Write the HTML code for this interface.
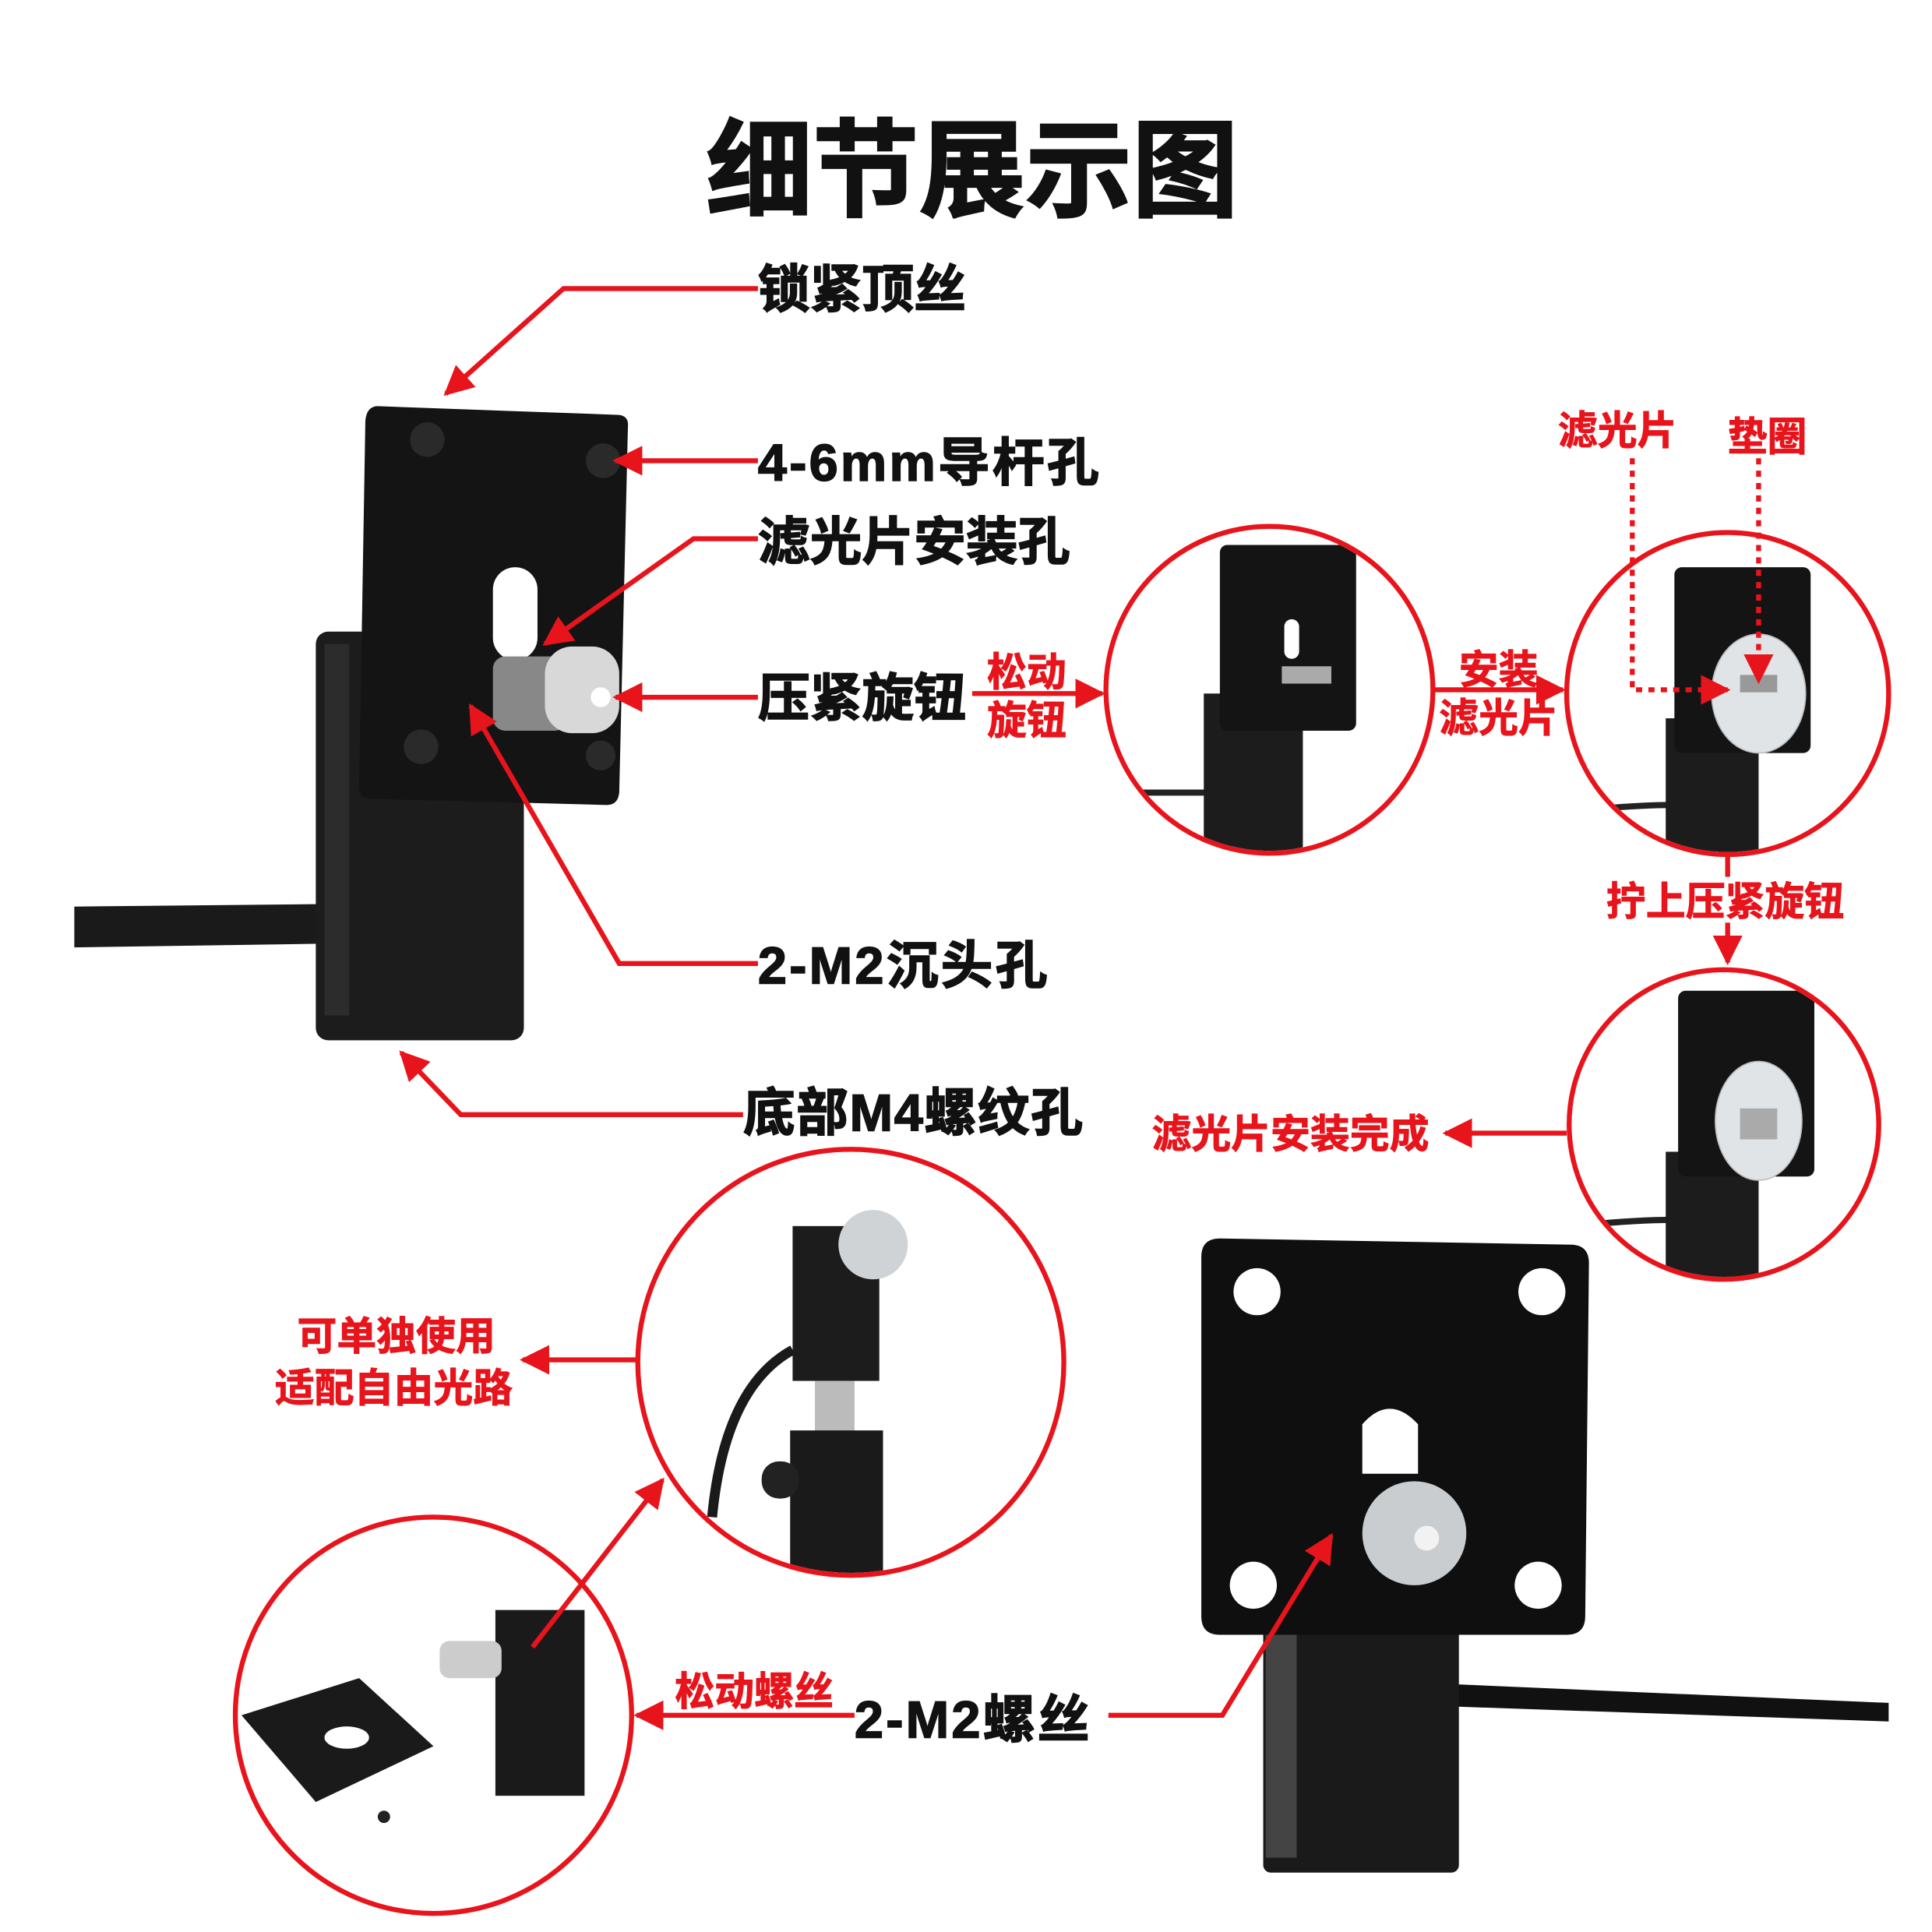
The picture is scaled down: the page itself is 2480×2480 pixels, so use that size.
<!DOCTYPE html>
<html><head><meta charset="utf-8"><style>
html,body{margin:0;padding:0;background:#fff;}
svg{display:block;}
text{font-family:"Liberation Sans","Noto Sans CJK SC",sans-serif;font-weight:bold;}
</style></head><body>
<svg width="2480" height="2480" viewBox="0 0 1560 1560" xmlns="http://www.w3.org/2000/svg">
<defs>
<marker id="ar" viewBox="0 0 10 10" refX="9" refY="5" markerWidth="6" markerHeight="6" orient="auto"><path d="M0,0 L10,5 L0,10 z" fill="#e8141c"/></marker>
<clipPath id="c1"><circle cx="1025" cy="557" r="130"/></clipPath>
<clipPath id="c2"><circle cx="1395" cy="560" r="128"/></clipPath>
<clipPath id="c3"><circle cx="1392" cy="908" r="123"/></clipPath>
<clipPath id="c4"><circle cx="687" cy="1100" r="170"/></clipPath>
<clipPath id="c5"><circle cx="350" cy="1385" r="158"/></clipPath>
</defs>
<rect width="1560" height="1560" fill="#fff"/>
<text x="785" y="168" font-size="86" text-anchor="middle" fill="#111" stroke="#111" stroke-width="1.5">细节展示图</text>

<!-- main device -->
<path d="M60,732 L260,730 L260,762 L60,765 z" fill="#1a1a1a"/>
<rect x="255" y="510" width="168" height="330" rx="10" fill="#1c1c1c"/>
<rect x="262" y="520" width="20" height="300" fill="#2c2c2c"/>
<path d="M305,328 L500,335 Q508,336 507,345 L500,640 Q499,650 490,650 L300,645 Q290,645 290,635 L295,340 Q296,328 305,328 z" fill="#141414"/>
<circle cx="345" cy="355" r="14" fill="#2a2a2a"/><circle cx="487" cy="372" r="14" fill="#2a2a2a"/>
<circle cx="340" cy="603" r="14" fill="#2a2a2a"/><circle cx="485" cy="610" r="12" fill="#2a2a2a"/>
<rect x="398" y="458" width="36" height="75" rx="18" fill="#fff"/>
<rect x="398" y="530" width="60" height="60" rx="10" fill="#888"/>
<rect x="440" y="522" width="60" height="70" rx="22" fill="#d8d8d8"/>
<circle cx="485" cy="563" r="8" fill="#fff"/>

<!-- circle1 device -->
<g clip-path="url(#c1)">
<path d="M900,640 Q950,640 975,640" stroke="#222" stroke-width="5" fill="none"/>
<rect x="972" y="560" width="80" height="130" fill="#1c1c1c"/>
<rect x="985" y="440" width="110" height="150" rx="6" fill="#141414"/>
<rect x="1037" y="500" width="12" height="32" rx="6" fill="#fff"/>
<rect x="1035" y="538" width="40" height="14" fill="#aaa"/>
</g>
<!-- circle2 device -->
<g clip-path="url(#c2)">
<path d="M1270,655 Q1320,650 1350,650" stroke="#222" stroke-width="5" fill="none"/>
<rect x="1345" y="580" width="75" height="110" fill="#1c1c1c"/>
<rect x="1352" y="458" width="110" height="150" rx="6" fill="#141414"/>
<ellipse cx="1420" cy="560" rx="38" ry="48" fill="#e0e4e6" stroke="#bbb"/>
<rect x="1405" y="545" width="30" height="14" fill="#999"/>
</g>
<!-- circle3 device -->
<g clip-path="url(#c3)">
<path d="M1270,990 Q1320,985 1350,985" stroke="#222" stroke-width="5" fill="none"/>
<rect x="1345" y="930" width="75" height="110" fill="#1c1c1c"/>
<rect x="1355" y="800" width="110" height="150" rx="6" fill="#141414"/>
<ellipse cx="1420" cy="905" rx="35" ry="48" fill="#e0e4e6" stroke="#bbb"/>
<rect x="1405" y="895" width="30" height="25" fill="#aaa"/>
</g>
<!-- circle4 device -->
<g clip-path="url(#c4)">
<path d="M575,1225 Q585,1120 640,1090" stroke="#1a1a1a" stroke-width="8" fill="none"/>
<rect x="640" y="990" width="70" height="125" fill="#1c1c1c"/>
<circle cx="705" cy="1005" r="28" fill="#cfd3d6"/>
<rect x="658" y="1115" width="32" height="45" fill="#bbb"/>
<rect x="638" y="1155" width="75" height="130" fill="#1a1a1a"/>
<rect x="615" y="1180" width="30" height="30" rx="14" fill="#222"/>
</g>
<!-- circle5 devices -->
<g clip-path="url(#c5)">
<path d="M195,1385 L290,1355 L350,1410 L255,1455 z" fill="#1a1a1a"/>
<ellipse cx="280" cy="1403" rx="18" ry="9" fill="#fff"/>
<rect x="400" y="1300" width="72" height="150" fill="#1a1a1a"/>
<rect x="355" y="1325" width="50" height="30" rx="8" fill="#ccc"/>
<circle cx="310" cy="1467" r="5" fill="#222"/>
</g>
<g fill="none" stroke="#e8141c" stroke-width="4">
<circle cx="1025" cy="557" r="132"/>
<circle cx="1395" cy="560" r="130"/>
<circle cx="1392" cy="908" r="125"/>
<circle cx="687" cy="1100" r="172"/>
<circle cx="350" cy="1385" r="160"/>
</g>
<!-- bottom right device -->
<path d="M1175,1360 L1525,1375 L1525,1390 L1175,1378 z" fill="#111"/>
<rect x="1020" y="1300" width="158" height="212" rx="6" fill="#1a1a1a"/>
<rect x="1022" y="1310" width="25" height="190" fill="#444"/>
<path d="M985,1000 L1270,1005 Q1283,1006 1283,1020 L1280,1305 Q1280,1320 1265,1320 L985,1320 Q970,1320 970,1305 L970,1015 Q970,1000 985,1000 z" fill="#0f0f0f"/>
<g fill="#fff"><circle cx="1015" cy="1043" r="19"/><circle cx="1245" cy="1043" r="19"/><circle cx="1012" cy="1280" r="19"/><circle cx="1242" cy="1280" r="19"/></g>
<path d="M1100,1190 L1100,1150 Q1122,1125 1145,1150 L1145,1190 z" fill="#fff"/>
<circle cx="1142" cy="1238" r="42" fill="#c9cdd0"/>
<circle cx="1152" cy="1242" r="10" fill="#f2f2f2"/>

<!-- lines -->
<g stroke="#e8141c" stroke-width="4" fill="none">
<polyline points="612,233 455,233 360,318" marker-end="url(#ar)"/>
<polyline points="612,372 497,372" marker-end="url(#ar)"/>
<polyline points="612,435 560,435 440,520" marker-end="url(#ar)"/>
<polyline points="612,563 497,563" marker-end="url(#ar)"/>
<polyline points="612,778 500,778 380,570" marker-end="url(#ar)"/>
<polyline points="600,900 372,900 324,850" marker-end="url(#ar)"/>
<polyline points="785,560 890,560" marker-end="url(#ar)"/>
<polyline points="1158,557 1262,557" marker-end="url(#ar)"/>
<polyline points="1395,690 1395,708"/>
<polyline points="1395,745 1395,777" marker-end="url(#ar)"/>
<polyline points="1265,915 1167,915" marker-end="url(#ar)"/>
<polyline points="515,1098 422,1098" marker-end="url(#ar)"/>
<polyline points="690,1385 514,1385" marker-end="url(#ar)"/>
<polyline points="895,1385 987,1385 1075,1240" marker-end="url(#ar)"/>
<polyline points="430,1330 535,1195" marker-end="url(#ar)"/>
<polyline points="1318,370 1318,557 1395,557" stroke-dasharray="5,5" marker-end="url(#ar)"/>
<polyline points="1420,370 1420,550" stroke-dasharray="5,5" marker-end="url(#ar)"/>
</g>

<!-- black labels -->
<g font-size="42" fill="#111" stroke="#111" stroke-width="1">
<text x="612" y="248">锁紧顶丝</text>
<text x="612" y="388" letter-spacing="2">4-6mm导杆孔</text>
<text x="612" y="452">滤光片安装孔</text>
<text x="612" y="578">压紧旋钮</text>
<text x="612" y="794" letter-spacing="2">2-M2沉头孔</text>
<text x="600" y="913" letter-spacing="1">底部M4螺纹孔</text>
<text x="690" y="1403" letter-spacing="2">2-M2螺丝</text>
</g>
<!-- red labels -->
<g font-size="32" fill="#e8141c" stroke="#e8141c" stroke-width="0.6">
<text x="797" y="554">松动</text>
<text x="797" y="593">旋钮</text>
<text x="1178" y="552">安装</text>
<text x="1162" y="591">滤光片</text>
<text x="1258" y="359">滤光片</text>
<text x="1395" y="364">垫圈</text>
<text x="1297" y="739">拧上压紧旋钮</text>
<text x="930" y="927">滤光片安装完成</text>
<text x="240" y="1090">可单独使用</text>
<text x="222" y="1132">适配自由光路</text>
<text x="545" y="1377">松动螺丝</text>
</g>
</svg>
</body></html>
